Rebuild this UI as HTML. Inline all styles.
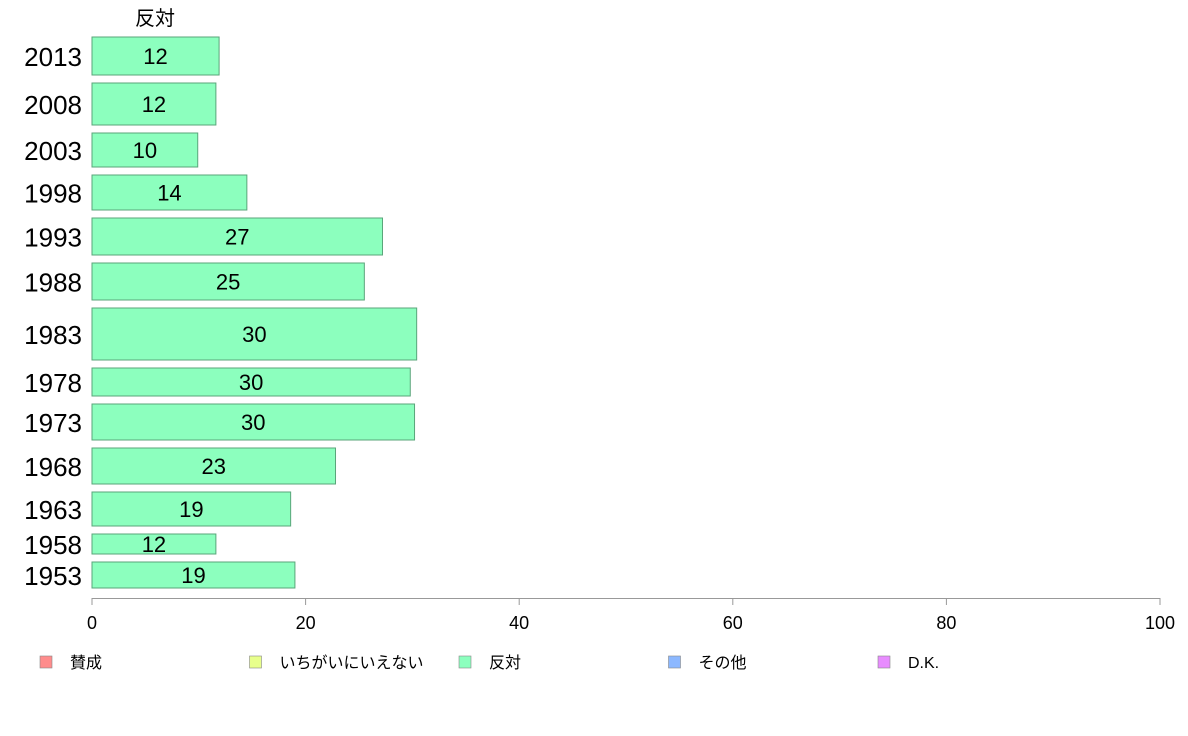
<!DOCTYPE html>
<html><head><meta charset="utf-8"><style>
body{margin:0;background:#fff;}
svg{display:block;font-family:"Liberation Sans","Noto Sans CJK JP",sans-serif;}
</style></head><body>
<svg id="c" width="1188" height="736" viewBox="0 0 1188 736"></svg>
<script>
const years=["2013","2008","2003","1998","1993","1988","1983","1978","1973","1968","1963","1958","1953"];
const values=[11.9,11.6,9.9,14.5,27.2,25.5,30.4,29.8,30.2,22.8,18.6,11.6,19.0];
const labels=["12","12","10","14","27","25","30","30","30","23","19","12","19"];
const weights=[38,42,34,35,37,37,52,28,36,36,34,20,26];
const ticks=[0,20,40,60,80,100];
const legendItems=["賛成","いちがいにいえない","反対","その他","D.K."];
const legendColors=["#ff8c8c","#e8ff8c","#8cffbe","#8cb8ff","#e88cff"];
const NS="http://www.w3.org/2000/svg";
const svgEl=document.getElementById('c');
function mk(t,a,txt){const e=document.createElementNS(NS,t);for(const k in a)e.setAttribute(k,a[k]);if(txt!==undefined)e.textContent=txt;svgEl.appendChild(e);return e;}
const x0=92,x1=1160;
const xs=v=>x0+(x1-x0)*v/100;
const plotTop=37,plotBottom=588,gap=8;
const totalW=weights.reduce((a,b)=>a+b,0);
const scaleH=(plotBottom-plotTop-gap*(weights.length-1))/totalW;
let hdr=mk('text',{x:155,y:25,'text-anchor':'middle','font-size':20,fill:'#000'},'反対');


let yy=plotTop;
years.forEach((yr,i)=>{
  const h=weights[i]*scaleH;
  const r=mk('rect',{x:x0,y:yy,width:xs(values[i])-x0,height:h,fill:'#8cffbe',stroke:'#5aa57a','stroke-width':1});
  
  
  const l=mk('text',{x:(x0+xs(values[i]))/2,y:yy+h/2+8,'text-anchor':'middle','font-size':22,fill:'#000'},labels[i]);
  
  
  const yl=mk('text',{x:82,y:yy+h/2+10,'text-anchor':'end','font-size':26,fill:'#000'},yr);
  
  
  yy+=h+gap;
});
const ax=mk('line',{x1:x0,x2:x1,y1:598.5,y2:598.5,stroke:'#999','stroke-width':1});


ticks.forEach(v=>{
  const tk=mk('line',{x1:xs(v),x2:xs(v),y1:598,y2:605,stroke:'#999','stroke-width':1});
  
  
  const tl=mk('text',{x:xs(v),y:629,'text-anchor':'middle','font-size':18,fill:'#000'},String(v));
  
  
});
legendItems.forEach((n,i)=>{
  const lx=40+i*209.5;
  const s=mk('rect',{x:lx,y:656,width:12,height:12,fill:legendColors[i],stroke:'#888','stroke-width':0.6});
  
  
  const lt=mk('text',{x:lx+30,y:668,'font-size':16,fill:'#000'},n);
  
  
});
</script>
</body></html>
